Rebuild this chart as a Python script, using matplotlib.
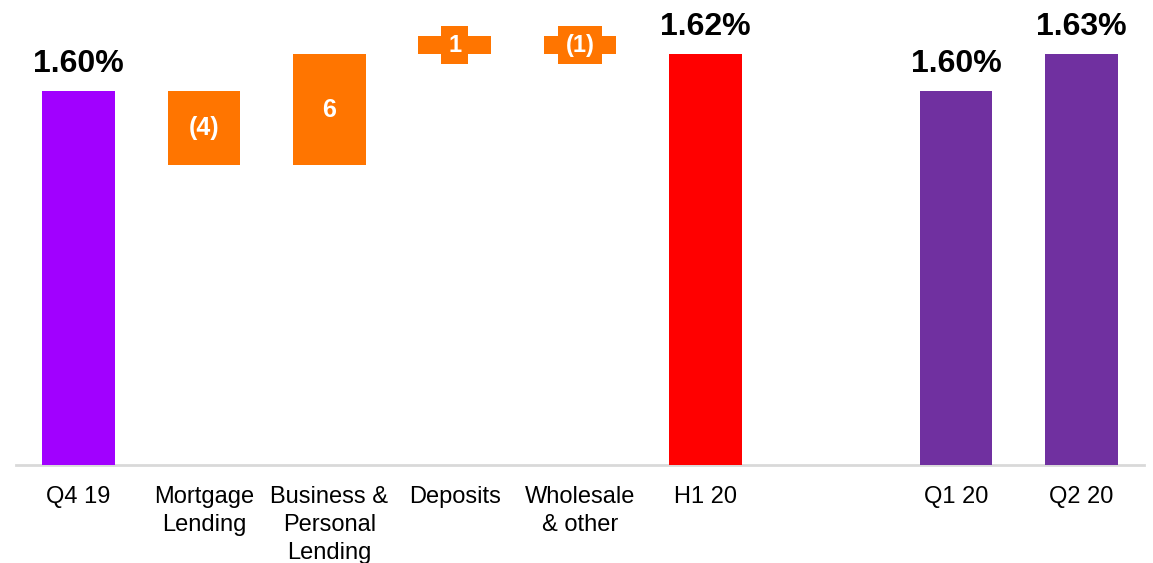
import matplotlib.pyplot as plt

plt.rcParams["font.family"] = ["Liberation Sans", "DejaVu Sans"]

# net interest margin walk, in %
start_label = "Q4 19"
start_value = 1.60
driver_labels = ["Mortgage\nLending", "Business &\nPersonal\nLending", "Deposits", "Wholesale\n& other"]
driver_bps = [-4, 6, 1, -1]
end_label = "H1 20"
end_value = 1.62

# quarterly comparison (Q2 bar is drawn at the same height as H1 in the source)
quarter_labels = ["Q1 20", "Q2 20"]
quarter_heights = [1.60, 1.62]
quarter_text = ["1.60%", "1.63%"]

AXIS_FLOOR = 1.398
ORANGE = "#FF7500"


def fmt_bps(v):
    return f"({abs(v)})" if v < 0 else f"{v}"


def main():
    fig = plt.figure(figsize=(11.53, 5.63), dpi=100)
    ax = fig.add_axes([16 / 1153, 98 / 563, 1128 / 1153, 465 / 563])
    width = 0.58

    # start bar
    ax.bar(0, start_value - AXIS_FLOOR, bottom=AXIS_FLOOR, width=width, color="#A100FF")
    ax.annotate(f"{start_value:.2f}%", (0, start_value), xytext=(0, 14), textcoords="offset points",
                ha="center", va="baseline", fontsize=23, fontweight="bold")

    # drivers
    level = start_value
    for i, bps in enumerate(driver_bps):
        x = i + 1
        delta = bps / 100
        low = min(level, level + delta)
        ax.bar(x, abs(delta), bottom=low, width=width, color=ORANGE)
        mid = low + abs(delta) / 2
        if abs(bps) > 1:
            ax.text(x, mid, fmt_bps(bps), ha="center", va="center", color="white",
                    fontsize=18, fontweight="bold")
        else:
            ax.text(x, mid, fmt_bps(bps), ha="center", va="center", color="white",
                    fontsize=17, fontweight="bold",
                    bbox=dict(boxstyle="square,pad=0.3", fc=ORANGE, ec="none"))
        level += delta

    # end bar
    ax.bar(5, end_value - AXIS_FLOOR, bottom=AXIS_FLOOR, width=width, color="#FF0000")
    ax.annotate(f"{end_value:.2f}%", (5, end_value), xytext=(0, 14), textcoords="offset points",
                ha="center", va="baseline", fontsize=23, fontweight="bold")

    # quarters
    qx = [7, 8]
    for x, h, t in zip(qx, quarter_heights, quarter_text):
        ax.bar(x, h - AXIS_FLOOR, bottom=AXIS_FLOOR, width=width, color="#7030A0")
        ax.annotate(t, (x, h), xytext=(0, 14), textcoords="offset points",
                    ha="center", va="baseline", fontsize=23, fontweight="bold")

    ax.axhline(AXIS_FLOOR, color="#D9D9D9", lw=2, zorder=0, clip_on=False)

    ax.set_xlim(-0.5, 8.5)
    ax.set_ylim(AXIS_FLOOR, AXIS_FLOOR + 465 / 18.5 / 100)
    ax.set_xticks([0, 1, 2, 3, 4, 5, 7, 8])
    ax.set_xticklabels([start_label] + driver_labels + [end_label] + quarter_labels,
                       fontsize=17, linespacing=1.35)
    ax.tick_params(axis="x", length=0, pad=15)
    ax.set_yticks([])
    for s in ax.spines.values():
        s.set_visible(False)

    fig.savefig("out.png", dpi=100)


if __name__ == "__main__":
    main()
